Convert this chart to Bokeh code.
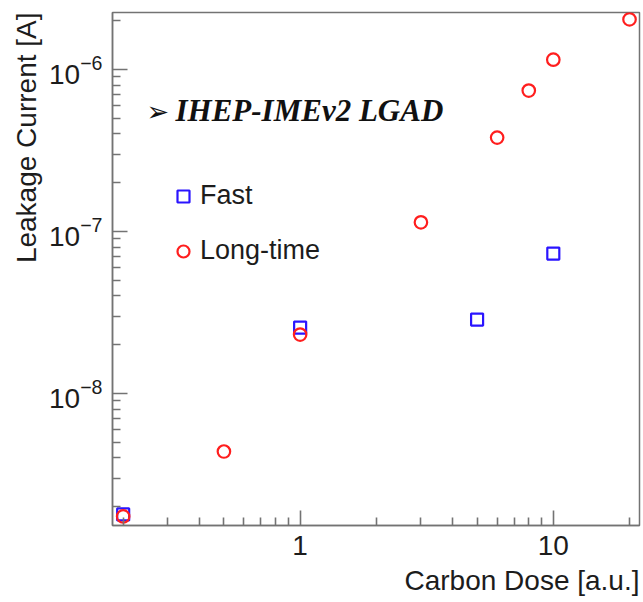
from bokeh.plotting import figure
from bokeh.models import (FixedTicker, Legend, LegendItem, Label, Title,
                          Range1d, LogTickFormatter)
from bokeh.embed import file_html
from bokeh.resources import INLINE

# Leakage current versus carbon dose for two annealing procedures
fast_dose = [0.2, 1, 5, 10]
fast_current = [1.79e-9, 2.55e-8, 2.86e-8, 7.31e-8]

long_dose = [0.2, 0.5, 1, 3, 6, 8, 10, 20]
long_current = [1.74e-9, 4.38e-9, 2.31e-8, 1.14e-7, 3.80e-7, 7.42e-7, 1.15e-6, 2.04e-6]

x_major = [1, 10]
x_major_labels = ["1", "10"]
y_major = [1e-8, 1e-7, 1e-6]

x_minor = [m * 0.1 for m in range(2, 10)] + [float(m) for m in range(2, 10)] + [20.0]
y_minor = [float(f"{m}e{e}") for e in (-9, -8, -7, -6) for m in range(2, 10)]

FRAME = "#737373"
TEXT = "#1c1c1c"
BLUE = "#2a14ff"
RED = "#ff1e1e"

p = figure(width=643, height=602, x_axis_type="log", y_axis_type="log",
           x_range=Range1d(0.1815, 21.9), y_range=Range1d(1.53e-9, 2.25e-6),
           output_backend="svg", toolbar_location=None,
           min_border_left=112, min_border_right=4, min_border_top=12,
           min_border_bottom=77)

p.background_fill_color = "white"
p.border_fill_color = "white"
p.outline_line_color = FRAME
p.outline_line_width = 1.5
p.xgrid.visible = False
p.ygrid.visible = False

xa = p.xaxis[0]
xa.ticker = FixedTicker(ticks=x_major, minor_ticks=x_minor)
xa.major_label_overrides = {t: s for t, s in zip(x_major, x_major_labels)}
ya = p.yaxis[0]
ya.ticker = FixedTicker(ticks=y_major, minor_ticks=y_minor)
ya.formatter = LogTickFormatter()

for ax in (xa, ya):
    ax.axis_line_color = FRAME
    ax.axis_line_width = 1.5
    ax.major_tick_line_color = FRAME
    ax.minor_tick_line_color = FRAME
    ax.major_tick_line_width = 1.6
    ax.minor_tick_line_width = 1.6
    ax.major_tick_in = 15
    ax.major_tick_out = 0
    ax.minor_tick_in = 8
    ax.minor_tick_out = 0
    ax.major_label_text_font = "Liberation Sans"
    ax.major_label_text_font_size = "28px"
    ax.major_label_text_color = TEXT
    ax.major_label_standoff = 10

fast = p.scatter(fast_dose, fast_current, marker="square", size=12,
                 fill_color=None, line_color=BLUE, line_width=2.2)
long_ = p.scatter(long_dose, long_current, marker="circle", size=12.5,
                  fill_color=None, line_color=RED, line_width=2.2)

legend = Legend(items=[LegendItem(label="Fast", renderers=[fast]),
                       LegendItem(label="Long-time", renderers=[long_])],
                location=(56, 259), orientation="vertical",
                border_line_color=None, background_fill_alpha=0,
                padding=0, margin=0, spacing=24,
                glyph_width=30, glyph_height=30, label_height=30,
                label_standoff=2,
                label_text_font="Liberation Sans", label_text_font_size="27px",
                label_text_color=TEXT)
p.add_layout(legend, "center")

p.add_layout(Label(x=34, y=414, x_units="screen", y_units="screen", text="\u27a2",
                   text_font="DejaVu Sans", text_font_style="bold",
                   text_font_size="27px", text_baseline="middle",
                   text_color="#111111"))
p.add_layout(Label(x=63, y=415, x_units="screen", y_units="screen",
                   text="IHEP-IMEv2 LGAD", text_font="Liberation Serif",
                   text_font_style="bold italic", text_font_size="31px",
                   text_baseline="middle", text_color="#111111"))

p.add_layout(Title(text="Carbon Dose [a.u.]", align="right",
                   text_font="Liberation Sans", text_font_style="normal",
                   text_font_size="28px", text_color=TEXT), "below")
p.add_layout(Title(text="Leakage Current [A]", align="right",
                   text_font="Liberation Sans", text_font_style="normal",
                   text_font_size="28px", text_color=TEXT), "left")

open("out.html", "w").write(file_html(p, INLINE))
